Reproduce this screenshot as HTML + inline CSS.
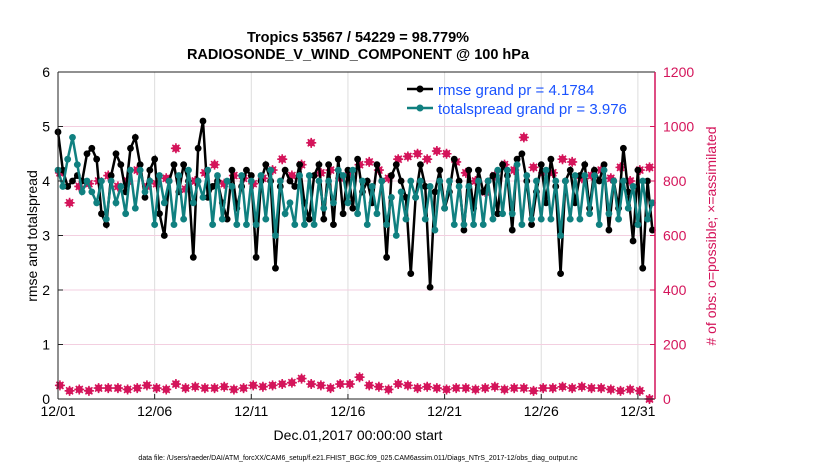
<!DOCTYPE html>
<html><head><meta charset="utf-8"><style>
body{margin:0;background:#fff;font-family:"Liberation Sans",sans-serif}
svg text{font-family:"Liberation Sans",sans-serif}
</style></head><body>
<svg id="chart" width="830" height="470" viewBox="0 0 830 470" xmlns="http://www.w3.org/2000/svg">
<rect width="830" height="470" fill="#fff"/>
<g id="grid"></g>
<g id="series"></g>
<g id="axes"></g>
<text x="358" y="42" font-size="14.5" font-weight="bold" text-anchor="middle">Tropics 53567 / 54229 = 98.779%</text>
<text x="358" y="59" font-size="14.5" font-weight="bold" text-anchor="middle">RADIOSONDE_V_WIND_COMPONENT @ 100 hPa</text>
<text x="358" y="440" font-size="14" text-anchor="middle">Dec.01,2017 00:00:00 start</text>
<text transform="translate(37,236) rotate(-90)" font-size="14" text-anchor="middle">rmse and totalspread</text>
<text transform="translate(716,236) rotate(-90)" font-size="14" fill="#d4145a" text-anchor="middle"># of obs: o=possible; ×=assimilated</text>
<text x="358" y="460" font-size="7" text-anchor="middle">data file: /Users/raeder/DAI/ATM_forcXX/CAM6_setup/f.e21.FHIST_BGC.f09_025.CAM6assim.011/Diags_NTrS_2017-12/obs_diag_output.nc</text>
<g>
<line x1="407" y1="89" x2="433" y2="89" stroke="#000" stroke-width="2.5"/><circle cx="420" cy="89" r="3.5" fill="#000"/>
<text x="438" y="95" font-size="15" fill="#1a53ff">rmse grand pr = 4.1784</text>
<line x1="407" y1="108" x2="433" y2="108" stroke="#108080" stroke-width="2.5"/><circle cx="420" cy="108" r="3.5" fill="#108080"/>
<text x="438" y="114" font-size="15" fill="#1a53ff">totalspread grand pr = 3.976</text>
</g>
</svg>
<script>
const rmse=[4.9,4.2,3.9,4.0,4.1,4.0,4.5,4.6,4.4,3.4,3.2,4.1,4.5,4.3,3.8,4.6,4.8,4.3,3.7,4.2,4.4,3.4,3.0,4.0,4.3,3.8,4.3,4.0,2.6,4.6,5.1,3.7,3.9,4.0,3.6,3.3,4.2,3.5,3.9,4.2,4.1,2.6,4.0,4.3,4.0,2.4,3.9,4.2,4.0,3.9,4.3,3.6,3.3,4.1,4.3,3.3,4.3,3.2,4.4,3.4,4.2,3.5,4.4,3.8,4.0,3.6,4.3,4.0,2.6,4.1,4.3,4.0,3.7,2.3,3.7,4.3,3.9,2.05,3.8,4.2,3.5,3.8,4.4,4.0,3.1,4.2,3.5,4.2,3.8,4.0,4.1,3.4,4.3,4.1,3.1,4.4,4.5,4.0,3.2,3.8,4.3,3.6,4.4,3.9,2.3,4.0,4.2,3.6,4.1,4.3,3.5,4.2,4.0,4.3,3.1,4.0,3.5,4.6,3.8,2.9,4.2,2.4,4.0,3.1];
const spread=[4.2,3.9,4.4,4.8,4.3,3.8,4.0,3.8,3.6,4.0,3.3,4.0,3.6,3.9,3.4,4.2,3.5,4.2,3.8,4.0,3.2,4.1,3.6,4.0,3.2,4.1,3.3,4.2,3.6,4.0,3.7,4.2,3.2,4.1,3.3,4.0,3.9,3.2,4.1,3.2,4.0,3.2,4.1,3.3,4.2,3.0,4.0,3.4,3.6,3.2,4.1,3.2,4.1,3.2,4.0,3.5,4.0,3.6,4.2,4.1,3.6,4.2,3.4,4.0,3.2,3.9,3.4,4.0,3.2,3.7,3.0,3.8,3.3,4.0,3.7,4.0,3.3,3.9,3.1,4.0,3.5,4.0,3.2,3.9,3.2,3.9,3.2,4.0,3.2,4.0,3.3,4.2,3.4,4.2,3.4,4.3,3.2,4.1,3.3,4.0,3.3,4.2,3.3,4.0,3.0,4.0,3.3,4.1,3.3,4.1,3.4,4.1,3.2,4.2,3.4,4.0,3.3,4.0,3.5,3.9,3.2,4.0,3.3,3.6];
const obsPossible=[830,720,780,790,800,820,780,800,840,780,790,810,920,770,800,830,860,790,820,810,790,810,840,880,820,860,940,830,840,810,830,860,870,840,810,880,890,900,880,910,900,870,830,800,760,820,860,840,960,850,830,830,880,870,810,820,840,810,850,800,840,850];
const obsLow=[50,30,35,30,40,40,40,35,40,50,40,35,55,40,45,40,40,45,35,40,50,45,50,55,60,75,55,50,40,55,55,80,50,45,35,55,50,40,45,40,35,40,40,35,40,45,35,40,40,30,40,40,45,40,45,40,40,35,30,35,30,0];
const xTickLabels=["12/01","12/06","12/11","12/16","12/21","12/26","12/31"];
const xTickDays=[0,5,10,15,20,25,30];
const yTicks=[0,1,2,3,4,5,6];
const y2Ticks=[0,200,400,600,800,1000,1200];

const L=58,R=655,T=72,B=399,dayPx=19.33;
const X=d=>L+d*dayPx;
const Y=v=>B-(v/6)*(B-T);
const Y2=v=>B-(v/1200)*(B-T);
const NS="http://www.w3.org/2000/svg";
function mk(tag,attrs,parent){const e=document.createElementNS(NS,tag);for(const k in attrs)e.setAttribute(k,attrs[k]);parent.appendChild(e);return e;}
const grid=document.getElementById('grid'),ser=document.getElementById('series'),ax=document.getElementById('axes');
const red="#d4145a";
xTickDays.forEach((d,i)=>{
  const g=mk('line',{x1:X(d),x2:X(d),y1:T,y2:B,stroke:"#ddd","stroke-width":1},grid);
  
  
  mk('line',{x1:X(d),x2:X(d),y1:B,y2:B-5,stroke:"#222"},ax);
  const t=mk('text',{x:X(d),y:B+17,"font-size":14,"text-anchor":"middle"},ax);
  t.textContent=xTickLabels[i];
  
  
});
yTicks.forEach(v=>{
  const g=mk('line',{x1:L,x2:R,y1:Y(v),y2:Y(v),stroke:"#f3cfe0","stroke-width":1},grid);
  
  
  mk('line',{x1:L,x2:L+5,y1:Y(v),y2:Y(v),stroke:"#222"},ax);
  const t=mk('text',{x:L-8,y:Y(v)+5,"font-size":14,"text-anchor":"end"},ax);
  t.textContent=v;
  
  
});
y2Ticks.forEach(v=>{
  mk('line',{x1:R,x2:R-5,y1:Y2(v),y2:Y2(v),stroke:red},ax);
  const t=mk('text',{x:R+8,y:Y2(v)+5,"font-size":14,fill:red},ax);
  t.textContent=v;
  
  
});
mk('line',{x1:L,x2:R,y1:T,y2:T,stroke:"#222"},ax);
mk('line',{x1:L,x2:R,y1:B,y2:B,stroke:"#222"},ax);
mk('line',{x1:L,x2:L,y1:T,y2:B,stroke:"#222"},ax);
mk('line',{x1:R,x2:R,y1:T,y2:B,stroke:red,"stroke-width":1.5},ax);

function drawLine(arr,color,name){
  const pts=arr.map((v,i)=>X(i*0.25)+","+Y(v)).join(" ");
  const pl=mk('polyline',{points:pts,fill:"none",stroke:color,"stroke-width":2.5},ser);
  
  
  arr.forEach((v,i)=>{
    const c=mk('circle',{cx:X(i*0.25),cy:Y(v),r:3.4,fill:color},ser);
    
    
  });
}
function drawObs(arr,name){
  arr.forEach((v,i)=>{
    const x=X(i*0.5+0.1),y=Y2(v);
    const g=mk('g',{},ser);
    
    
    mk('circle',{cx:x,cy:y,r:3.6,fill:red},g);
    mk('path',{d:`M${x-5} ${y}H${x+5}M${x} ${y-5}V${y+5}M${x-3.5} ${y-3.5}L${x+3.5} ${y+3.5}M${x-3.5} ${y+3.5}L${x+3.5} ${y-3.5}`,stroke:red,"stroke-width":1.6},g);
  });
}
drawObs(obsPossible,'obs-count-marker');
drawObs(obsLow,'obs-low-marker');
drawLine(rmse,"#000",'rmse');
drawLine(spread,"#108080",'totalspread');
</script>
</body></html>
